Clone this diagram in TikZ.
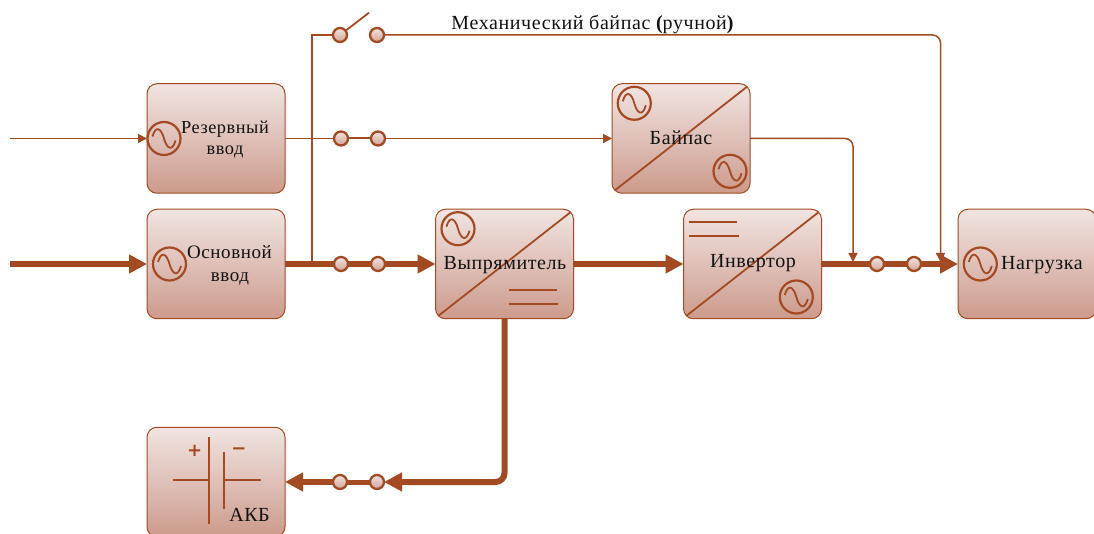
\documentclass[tikz,border=0pt]{standalone}
\usepackage{fontspec}
\setmainfont[LetterSpace=3]{Liberation Serif}
\usetikzlibrary{arrows.meta,backgrounds}
\definecolor{rust}{HTML}{A44A23}
\definecolor{ink}{HTML}{111111}
\newcommand{\acsym}[2]{%
  \node[acring] (#1) at (#2) {};
  \draw[symline] ([xshift=-11.5pt,yshift=2pt]#1.center) .. controls ([xshift=-8.5pt,yshift=13pt]#1.center) and ([xshift=-3pt,yshift=11pt]#1.center) .. (#1.center) .. controls ([xshift=3pt,yshift=-11pt]#1.center) and ([xshift=8.5pt,yshift=-13pt]#1.center) .. ([xshift=11.5pt,yshift=-2pt]#1.center);
}
\tikzset{
  box/.style={draw=rust,line width=1pt,rounded corners=10pt,top color=F1top,bottom color=F1bot,middle color=F1mid,minimum width=138pt,minimum height=109.5pt,inner sep=0pt,outer sep=0pt},
  contact/.style={circle,draw=rust,line width=2.3pt,top color=F1top,bottom color=Cbot,minimum size=14pt,inner sep=0pt,outer sep=0pt},
  acring/.style={circle,draw=rust,line width=2.2pt,minimum size=33pt,inner sep=0pt,outer sep=0pt},
  symline/.style={draw=rust,line width=1.8pt},
  lab/.style={text=ink,font=\fontsize{20}{22}\selectfont,inner sep=0pt,anchor=base},
  labsmall/.style={lab,font=\fontsize{18.3}{22}\selectfont},
  labmid/.style={lab,font=\fontsize{19}{22}\selectfont},
  thinline/.style={draw=rust,line width=1.5pt},
  midline/.style={draw=rust,line width=2.7pt},
  thickline/.style={draw=rust,line width=6pt},
  thinarrow/.style={thinline,-{Triangle[length=9pt,width=9pt]}},
  thickarrow/.style={thickline,-{Triangle[length=18pt,width=18pt]}},
  sign/.style={text=rust,font=\fontspec{DejaVu Sans Bold}\fontsize{18}{18}\selectfont,inner sep=0pt},
}
\definecolor{F1top}{HTML}{F1E4E1}
\definecolor{F1mid}{HTML}{DFC0B8}
\definecolor{F1bot}{HTML}{CC9A8B}
\definecolor{Cbot}{HTML}{D2A496}
\begin{document}
\begin{tikzpicture}[x=1pt,y=-1pt]
\useasboundingbox (0,0) rectangle (1094,534);
% boxes
\node[box] (res) at (216,138.5) {};
\node[box] (osn) at (216,264) {};
\node[box] (byp) at (681,138.5) {};
\node[box] (rect) at (504.5,264) {};
\node[box] (inv) at (752.5,264) {};
\node[box] (load) at (1027,264) {};
\node[box] (akb) at (216,482) {};
% diagonals
\draw[symline] ([shift={(3,-3)}]byp.south west) -- ([shift={(-3,3)}]byp.north east);
\draw[symline] ([shift={(3,-3)}]rect.south west) -- ([shift={(-3,3)}]rect.north east);
\draw[symline] ([shift={(3,-3)}]inv.south west) -- ([shift={(-3,3)}]inv.north east);
% AC symbols
\acsym{acres}{164,138.5}
\acsym{acosn}{169.5,264}
\acsym{acbypa}{634.3,103.3}
\acsym{acbypb}{730,171.3}
\acsym{acrect}{458,228.7}
\acsym{acinv}{796.3,297}
\acsym{acload}{980.3,264}
% DC symbols
\draw[symline] (508.7,290) -- (557,290);
\draw[symline] (508.7,303.7) -- (558.3,303.7);
\draw[symline] (688.7,222) -- (737,222);
\draw[symline] (688.7,235.7) -- (738.7,235.7);
% battery
\draw[symline] (209.3,436.7) -- (209.3,524);
\draw[symline] (224,451.7) -- (224,509);
\draw[symline] (172.7,480) -- (209.3,480);
\draw[symline] (224,480) -- (260.7,480);
\node[sign] (plus) at (194.7,451) {+};
\node[sign] (minus) at (239,451) {−};
% contacts
\node[contact] (m1) at (340,35) {};
\node[contact] (m2) at (377,35) {};
\node[contact] (r1) at (341,138.5) {};
\node[contact] (r2) at (378,138.5) {};
\node[contact] (o1) at (341,264) {};
\node[contact] (o2) at (378,264) {};
\node[contact] (l1) at (877,264) {};
\node[contact] (l2) at (914,264) {};
\node[contact] (b1) at (340,482) {};
\node[contact] (b2) at (377,482) {};
% free ends
\coordinate (inA) at (10,138.5);
\coordinate (inB) at (10,264);
\coordinate (branch) at (312,264);
\coordinate (lever) at (369,12.7);
\coordinate (tapA) at (853,262);
\coordinate (tapB) at (940.5,262);
% labels
\node[labsmall] (t1) at (225,133.3) {Резервный};
\node[labsmall] (t2) at (225,155) {ввод};
\node[labmid] (t3) at (229.5,258.3) {Основной};
\node[labmid] (t4) at (230,281.7) {ввод};
\node[lab] (t5) at (681,144.3) {Байпас};
\node[lab] (t6) at (505,270) {Выпрямитель};
\node[lab] (t7) at (753,267.7) {Инвертор};
\node[lab] (t8) at (1042,270) {Нагрузка};
\node[lab] (t9) at (249.5,521) {АКБ};
\node[lab] (t10) at (592.5,30) {Механический байпас {\bfseries(}ручной{\bfseries)}};
% connectors
\begin{scope}[on background layer]
\draw[thinarrow] (inA) -- (res.west);
\draw[thickarrow] (inB) -- (osn.west);
\draw[thinline] (res.east |- r1) -- (r1);
\draw[midline,line width=2pt] (r1) -- (r2);
\draw[thinarrow] (r2) -- (byp.west |- r2);
\draw[thickline] (osn.east) -- (o1);
\draw[thickline] (o1) -- (o2);
\draw[thickarrow] (o2) -- (rect.west);
\draw[thickarrow] (rect.east) -- (inv.west);
\draw[thickline] (inv.east) -- (l1);
\draw[thickline] (l1) -- (l2);
\draw[thickarrow] (l2) -- (load.west);
\draw[midline] (branch) |- (m1);
\draw[symline] (m1) -- (lever);
\draw[thinarrow,rounded corners=8pt] (m2) -| (tapB);
\draw[thinarrow,rounded corners=8pt] (byp.east) -| (tapA);
\draw[thickarrow,rounded corners=9pt] (rect.south) |- (b2.east);
\draw[thickline,line width=5pt] (b2) -- (b1);
\draw[thickarrow] (b1) -- (akb.east |- b1);
\end{scope}
\end{tikzpicture}
\end{document}
